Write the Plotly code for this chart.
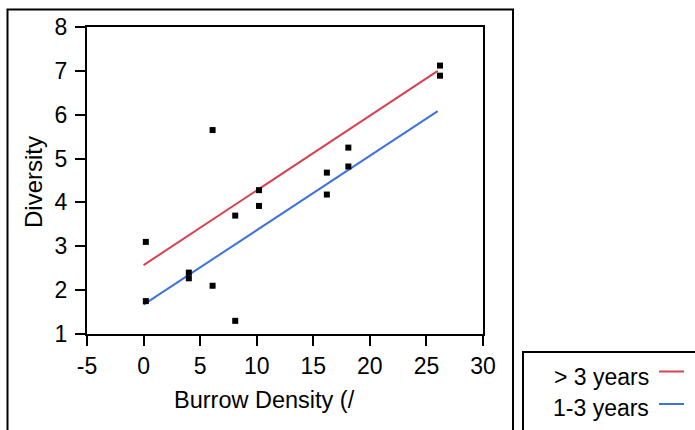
import plotly.graph_objects as go

# ---- data ----
burrow_density = [0.2, 0.2, 4.0, 4.0, 6.1, 6.1, 8.1, 8.1, 10.2, 10.2, 16.2, 16.2, 18.1, 18.1, 26.2, 26.2]
diversity = [3.10, 1.75, 2.40, 2.27, 5.65, 2.10, 3.70, 1.30, 4.28, 3.92, 4.68, 4.18, 5.25, 4.82, 7.12, 6.89]

fit_x = [0, 26]
fit_old_y = [2.57, 7.00]     # > 3 years
fit_young_y = [1.67, 6.08]   # 1-3 years

series_names = ["> 3 years", "1-3 years"]
series_colors = ["#d8414f", "#3d72df"]

x_ticks = [-5, 0, 5, 10, 15, 20, 25, 30]
x_tick_labels = ["-5", "0", "5", "10", "15", "20", "25", "30"]
y_ticks = [1, 2, 3, 4, 5, 6, 7, 8]
y_tick_labels = ["1", "2", "3", "4", "5", "6", "7", "8"]

# ---- layout geometry ----
W, H = 695, 430
L, R, T, B = 87, 212, 27, 96
PW, PH = W - L - R, H - T - B
FONT = "Liberation Sans, Arial, Helvetica, sans-serif"


def px(xp):
    return (xp - L) / PW


def py(yp):
    return (H - B - yp) / PH


fig = go.Figure()
fig.add_trace(go.Scatter(x=fit_x, y=fit_old_y, mode="lines",
                         line=dict(color=series_colors[0], width=2),
                         name=series_names[0], showlegend=False))
fig.add_trace(go.Scatter(x=fit_x, y=fit_young_y, mode="lines",
                         line=dict(color=series_colors[1], width=2),
                         name=series_names[1], showlegend=False))
fig.add_trace(go.Scatter(x=burrow_density, y=diversity, mode="markers",
                         marker=dict(symbol="square", size=6, color="black"),
                         showlegend=False))

shapes = [
    # outer frame
    dict(type="rect", xref="paper", yref="paper",
         x0=px(7.5), x1=px(513), y0=py(445), y1=py(9.5),
         line=dict(color="black", width=2)),
    # legend box
    dict(type="rect", xref="paper", yref="paper",
         x0=px(523), x1=px(710), y0=py(445), y1=py(352),
         line=dict(color="black", width=2)),
    dict(type="line", xref="paper", yref="paper",
         x0=px(659), x1=px(684), y0=py(371.5), y1=py(371.5),
         line=dict(color=series_colors[0], width=2)),
    dict(type="line", xref="paper", yref="paper",
         x0=px(659), x1=px(684), y0=py(404), y1=py(404),
         line=dict(color=series_colors[1], width=2)),
]

annotations = [
    dict(text=series_names[0], xref="paper", yref="paper", x=px(651), y=py(377),
         xanchor="right", yanchor="middle", showarrow=False,
         font=dict(family=FONT, size=23, color="black")),
    dict(text=series_names[1], xref="paper", yref="paper", x=px(651), y=py(408),
         xanchor="right", yanchor="middle", showarrow=False,
         font=dict(family=FONT, size=23, color="black")),
    dict(text="Burrow Density (/", xref="paper", yref="paper", x=px(172), y=py(400),
         xanchor="left", yanchor="middle", showarrow=False,
         font=dict(family=FONT, size=23.5, color="black")),
    dict(text="Diversity", xref="paper", yref="paper", x=px(33), y=py(182),
         xanchor="center", yanchor="middle", showarrow=False, textangle=-90,
         font=dict(family=FONT, size=24, color="black")),
]

axis_common = dict(showline=True, mirror=True, linecolor="black", linewidth=2,
                   ticks="outside", ticklen=10, tickwidth=2, tickcolor="black",
                   showgrid=False, zeroline=False,
                   tickfont=dict(family=FONT, size=23, color="black"))

fig.update_layout(
    width=W, height=H,
    margin=dict(l=L, r=R, t=T, b=B, pad=0),
    paper_bgcolor="white", plot_bgcolor="white",
    showlegend=False,
    shapes=shapes, annotations=annotations,
    xaxis=dict(range=[-5, 30], tickmode="array", tickvals=x_ticks,
               ticktext=x_tick_labels, **axis_common),
    yaxis=dict(range=[1, 8], tickmode="array", tickvals=y_ticks,
               ticktext=y_tick_labels, ticklabelstandoff=3, **axis_common),
)

fig.write_html("out.html", config={"displayModeBar": False},
               post_script="document.body.style.margin='0';document.body.style.overflow='hidden';")
